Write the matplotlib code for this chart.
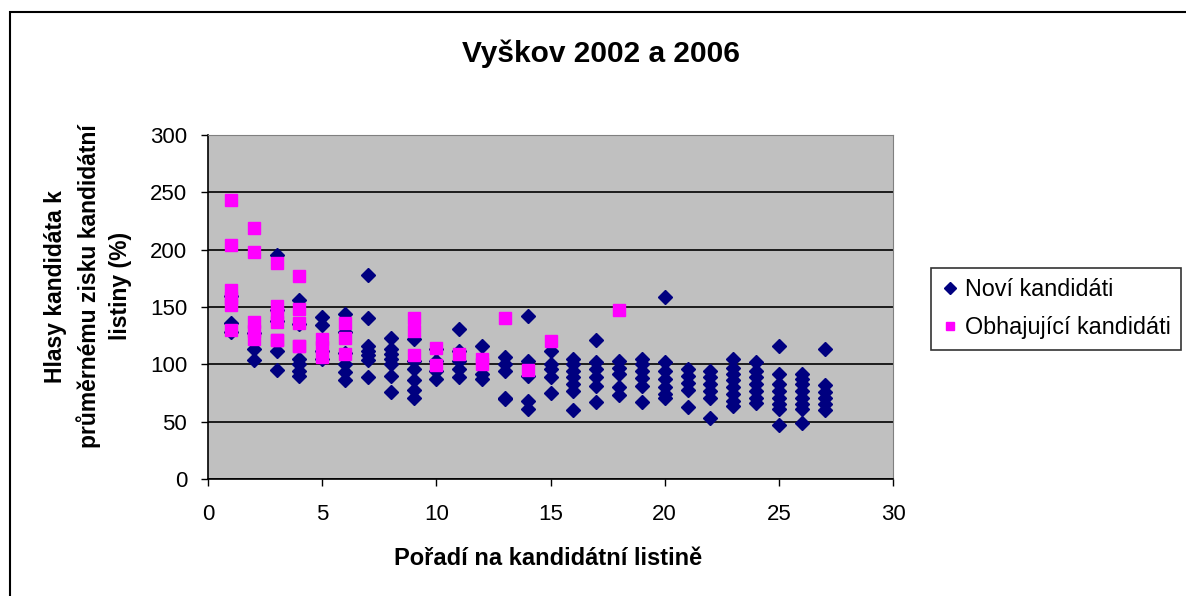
import matplotlib.pyplot as plt
from matplotlib.patches import Rectangle

plt.rcParams['font.family'] = ['Liberation Sans', 'DejaVu Sans']

# Noví kandidáti (navy diamonds): position on list -> values
new_x = (
    [1] * 3 + [2] * 3 + [3] * 5 + [4] * 6 + [5] * 4 + [6] * 6 + [7] * 7
    + [8] * 7 + [9] * 6 + [10] * 4 + [11] * 5 + [12] * 3 + [13] * 5
    + [14] * 5 + [15] * 5 + [16] * 7 + [17] * 6 + [18] * 5 + [19] * 6
    + [20] * 7 + [21] * 5 + [22] * 6 + [23] * 8 + [24] * 7 + [25] * 8
    + [26] * 8 + [27] * 6
)
new_y = [
    160, 136, 128,
    127, 113, 104,
    195, 147, 138, 112, 95,
    156, 135, 105, 100, 94, 90,
    141, 134, 112, 105,
    144, 128, 110, 100, 93, 86,
    178, 140, 116, 112, 108, 104, 89,
    123, 113, 109, 105, 100, 90, 76,
    122, 103, 96, 86, 78, 71,
    113, 103, 94, 87,
    131, 112, 103, 96, 89,
    116, 92, 87,
    106, 100, 94, 71, 70,
    142, 103, 90, 68, 61,
    112, 100, 96, 89, 75,
    105, 100, 94, 89, 83, 77, 60,
    121, 102, 96, 89, 81, 67,
    103, 97, 92, 80, 73,
    105, 100, 94, 88, 81, 67,
    159, 102, 94, 87, 80, 74, 71,
    96, 90, 84, 78, 63,
    94, 89, 83, 77, 71, 53,
    105, 97, 92, 86, 80, 74, 68, 64,
    102, 94, 89, 83, 77, 71, 66,
    116, 92, 83, 77, 71, 65, 61, 47,
    92, 87, 83, 77, 71, 65, 61, 49,
    113, 82, 76, 71, 65, 60,
]

# Obhajující kandidáti (magenta squares)
inc_x = (
    [1] * 6 + [2] * 5 + [3] * 6 + [4] * 5 + [5] * 3 + [6] * 3 + [9] * 3
    + [10] * 2 + [11] + [12] * 2 + [13] + [14] + [15] + [18]
)
inc_y = [
    243, 204, 165, 158, 152, 130,
    219, 198, 137, 129, 122,
    188, 151, 145, 137, 121, 121,
    177, 148, 136, 116, 116,
    122, 115, 106,
    136, 123, 109,
    140, 129, 108,
    114, 99,
    109,
    105, 100,
    140,
    95,
    120,
    147,
]

x_ticks = [0, 5, 10, 15, 20, 25, 30]
y_ticks = [0, 50, 100, 150, 200, 250, 300]

fig = plt.figure(figsize=(11.86, 5.96), dpi=100)
fig.patches.append(Rectangle((10 / 1186, -0.01), 1.1, 1 - 12 / 596 + 0.01,
                             transform=fig.transFigure, fill=False,
                             edgecolor='black', linewidth=1.5))

ax = fig.add_axes([0.1754, 0.1963, 0.5776, 0.5772])
ax.set_facecolor('#C0C0C0')
ax.set_axisbelow(True)
ax.grid(axis='y', color='black', linewidth=1.2)

ax.plot(new_x, new_y, linestyle='none', marker='D', markersize=7.5,
        color='#000080', label='Noví kandidáti')
ax.plot(inc_x, inc_y, linestyle='none', marker='s', markersize=8.5,
        color='#FF00FF', label='Obhajující kandidáti')

ax.set_xlim(0, 30)
ax.set_ylim(0, 300)
ax.set_xticks(x_ticks)
ax.set_yticks(y_ticks)
ax.tick_params(direction='out', length=5, width=1, labelsize=16)
ax.tick_params(axis='x', pad=13)
ax.tick_params(axis='y', pad=10)
for s in ['top', 'right']:
    ax.spines[s].set_color('#808080')
for s in ['left', 'bottom']:
    ax.spines[s].set_color('black')
    ax.spines[s].set_linewidth(1.2)

fig.text(0.507, 0.91, 'Vyškov 2002 a 2006', ha='center', va='center',
         fontsize=21.5, fontweight='bold')
fig.text(0.462, 0.063, 'Pořadí na kandidátní listině', ha='center',
         va='center', fontsize=17, fontweight='bold')
fig.text(0.074, 0.52, 'Hlasy kandidáta k\nprůměrnému zisku kandidátní\nlistiny (%)',
         ha='center', va='center', rotation=90, fontsize=16.5,
         fontweight='bold', linespacing=1.45)

leg = fig.legend(loc='center left', bbox_to_anchor=(0.785, 0.482),
                 frameon=True, fancybox=False, edgecolor='black',
                 fontsize=16.8, handlelength=0.7, handletextpad=0.3,
                 borderpad=0.45, labelspacing=0.65, markerscale=0.75,
                 borderaxespad=0)
leg.get_frame().set_linewidth(1.2)

fig.savefig('out.png', dpi=100)
